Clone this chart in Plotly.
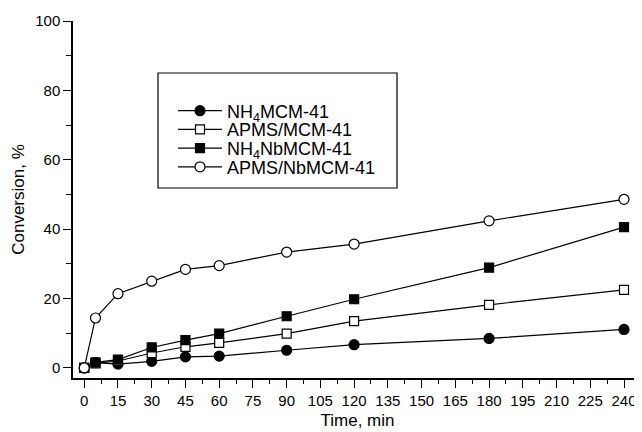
import plotly.graph_objects as go

time = [0, 5, 15, 30, 45, 60, 90, 120, 180, 240]
nh4_mcm = [0, 1.5, 1.1, 1.9, 3.2, 3.4, 5.1, 6.7, 8.5, 11.1]
apms_mcm = [0, 1.3, 2.0, 4.3, 6.1, 7.2, 9.9, 13.5, 18.2, 22.5]
nh4_nb = [0, 1.6, 2.4, 5.9, 8.0, 9.9, 14.9, 19.8, 28.9, 40.6]
apms_nb = [0, 14.4, 21.4, 25.0, 28.4, 29.5, 33.4, 35.7, 42.4, 48.6]

names = ["NH<sub>4</sub>MCM-41", "APMS/MCM-41", "NH<sub>4</sub>NbMCM-41", "APMS/NbMCM-41"]
series = [nh4_mcm, apms_mcm, nh4_nb, apms_nb]
symbols = ["circle", "square", "square", "circle"]
fills = ["black", "white", "black", "white"]
sizes = [10, 9, 9, 10]
x_ticks = list(range(0, 241, 15))
y_ticks = [0, 20, 40, 60, 80, 100]

FONT = "Liberation Sans, Arial, sans-serif"
OFF = 8  # page body margin offset
W, H = 642 - OFF, 432 - OFF
L, R, T, B = 73 - OFF, 0, 21 - OFF, 54
pw, ph = W - L - R, H - T - B

def px(xp):
    return (xp - OFF - L) / pw

def py(yp):
    return (H - B - (yp - OFF)) / ph

fig = go.Figure()
legend_names = ["legend", "legend2", "legend3", "legend4"]
row_y = [111, 129.7, 148.4, 167.1]
for i in range(4):
    fig.add_trace(go.Scatter(
        x=time, y=series[i], name=names[i], mode="lines+markers",
        line=dict(color="black", width=1.2),
        marker=dict(symbol=symbols[i], size=sizes[i], color=fills[i],
                    line=dict(color="black", width=1.2)),
        legend=legend_names[i],
    ))

layout_legends = {}
for i, ln in enumerate(legend_names):
    layout_legends[ln] = dict(
        x=px(173), y=py(row_y[i]), xanchor="left", yanchor="middle",
        bgcolor="rgba(0,0,0,0)", borderwidth=0,
        font=dict(family=FONT, size=18, color="black"),
        itemwidth=44,
    )

fig.update_layout(
    width=W, height=H,
    margin=dict(l=L, r=R, t=T, b=B, autoexpand=False),
    paper_bgcolor="white", plot_bgcolor="white",
    font=dict(family=FONT, size=15, color="black"),
    showlegend=True,
    xaxis=dict(
        range=[-5, 248], tickmode="array", tickvals=x_ticks,
        ticks="outside", ticklen=8, tickwidth=1.3, tickcolor="black",
        minor=dict(ticks="outside", ticklen=4, tickwidth=1.2, tickcolor="black", dtick=7.5, tick0=0),
        showline=True, linecolor="black", linewidth=1.5, showgrid=False, zeroline=False,
        tickfont=dict(size=15), title=dict(text="Time, min", font=dict(size=17), standoff=6),
        automargin=False,
    ),
    yaxis=dict(
        range=[-2.9, 100], tickmode="array", tickvals=y_ticks,
        ticks="outside", ticklen=8, tickwidth=1.3, tickcolor="black",
        minor=dict(ticks="outside", ticklen=5, tickwidth=1.2, tickcolor="black", dtick=10, tick0=0),
        showline=True, linecolor="black", linewidth=1.5, showgrid=False, zeroline=False,
        tickfont=dict(size=15), title=dict(text="Conversion, %", font=dict(size=17), standoff=6),
        automargin=False,
    ),
    shapes=[dict(type="rect", xref="paper", yref="paper",
                 x0=px(158), x1=px(397), y0=py(188), y1=py(73),
                 line=dict(color="black", width=1.2), fillcolor="rgba(0,0,0,0)")],
    **layout_legends,
)

fig.write_html("out.html")
